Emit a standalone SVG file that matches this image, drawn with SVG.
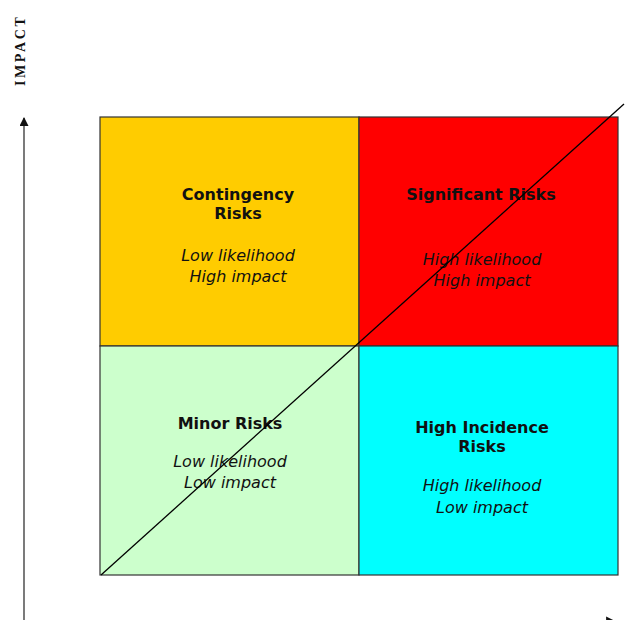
<svg xmlns="http://www.w3.org/2000/svg" width="625" height="620" viewBox="0 0 625 620">
  <style>
    .cell { stroke: #333333; stroke-width: 1.2; }
    .title { font-family: "DejaVu Sans", Verdana, sans-serif; font-weight: bold; font-size: 16px; fill: #111111; text-anchor: middle; }
    .desc { font-family: "DejaVu Sans", Verdana, sans-serif; font-style: italic; font-size: 16px; fill: #111111; text-anchor: middle; }
    .axis { stroke: #333333; stroke-width: 1.3; fill: none; }
    .axis-label { font-family: "Liberation Serif", "Times New Roman", serif; font-weight: bold; font-size: 14px; fill: #111111; letter-spacing: 2.6px; }
  </style>
  <defs>
    <marker id="arrow" viewBox="0 0 10 10" refX="9" refY="5" markerWidth="11" markerHeight="9" orient="auto" markerUnits="userSpaceOnUse">
      <path d="M0,0 L10,5 L0,10 Z" fill="#111111"/>
    </marker>
    <marker id="arrow-x" viewBox="0 0 10 10" refX="9" refY="5" markerWidth="11" markerHeight="12" orient="auto" markerUnits="userSpaceOnUse">
      <path d="M0,0 L10,5 L0,10 Z" fill="#111111"/>
    </marker>
  </defs>
  <rect width="625" height="620" fill="#ffffff"/>

  <!-- axes -->
  <g id="axes">
    <line class="axis" x1="24" y1="620" x2="24" y2="118" marker-end="url(#arrow)"/>
    <line class="axis" x1="24" y1="622" x2="616" y2="622" marker-end="url(#arrow-x)"/>
    <text class="axis-label" transform="translate(25,86) rotate(-90)">IMPACT</text>
  </g>

  <!-- quadrants -->
  <g id="contingency">
    <rect class="cell" x="100" y="117" width="259" height="229" fill="#FFCC00"/>
    <text class="title" x="238" y="200">Contingency</text>
    <text class="title" x="238" y="219">Risks</text>
    <text class="desc" x="238" y="261">Low likelihood</text>
    <text class="desc" x="238" y="282">High impact</text>
  </g>
  <g id="significant">
    <rect class="cell" x="359" y="117" width="259" height="229" fill="#FF0000"/>
    <text class="title" x="481" y="200">Significant Risks</text>
    <text class="desc" x="482" y="265">High likelihood</text>
    <text class="desc" x="482" y="286">High impact</text>
  </g>
  <g id="minor">
    <rect class="cell" x="100" y="346" width="259" height="229" fill="#CCFFCC"/>
    <text class="title" x="230" y="429">Minor Risks</text>
    <text class="desc" x="230" y="467">Low likelihood</text>
    <text class="desc" x="230" y="488">Low impact</text>
  </g>
  <g id="high-incidence">
    <rect class="cell" x="359" y="346" width="259" height="229" fill="#00FFFF"/>
    <text class="title" x="482" y="433">High Incidence</text>
    <text class="title" x="482" y="452">Risks</text>
    <text class="desc" x="482" y="491">High likelihood</text>
    <text class="desc" x="482" y="513">Low impact</text>
  </g>

  <!-- diagonal trend line -->
  <g id="connectors">
    <line x1="101" y1="575" x2="624" y2="104" stroke="#000000" stroke-width="1.3"/>
  </g>
</svg>
